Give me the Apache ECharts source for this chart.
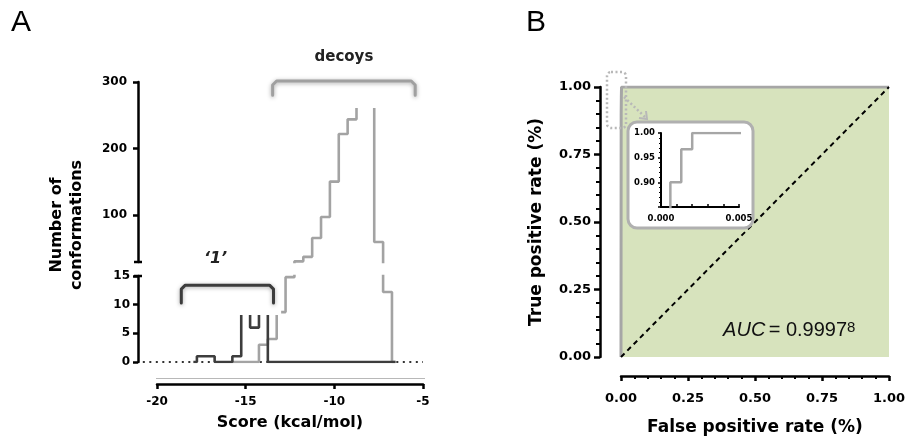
<!DOCTYPE html>
<html><head><meta charset="utf-8">
<script src="https://cdn.jsdelivr.net/npm/echarts@6/dist/echarts.min.js"></script>
<style>html,body{margin:0;padding:0;background:#fff}#c{width:907px;height:439px}</style>
</head><body><div id="c"></div>
<script>
// ---------- Panel A data (histograms, bin edges in kcal/mol) ----------
const darkEdges  = [-17.95, -17.75, -16.75, -15.75, -15.25, -14.75, -14.25, -13.75, -6.55];
const darkCounts = [0, 1, 0, 1, 9, 6, 9, 0];
const decoyEdges  = [-15.75, -14.25, -13.75, -13.25, -12.75, -12.25, -11.75, -11.25, -10.75, -10.25, -9.75, -9.25, -8.75, -8.25, -7.75, -7.25, -6.75, -6.55];
const decoyCounts = [0, 3, 4, 8.7, 14.8, 31, 37.7, 66, 97.4, 150.6, 222, 244, 285, 280, 60, 12.2, 0];
const scoreMin = -20, scoreMax = -5;
const upperTicks = [100, 200, 300];
const zeroLineX = [-20.8, -5.0];
// ---------- Panel B data ----------
const rocFpr = [0, 0.0006, 0.0006, 0.0013, 0.0013, 0.0020, 0.0020, 1.0];
const rocTpr = [0, 0, 0.90, 0.90, 0.967, 0.967, 1.0, 1.0];
const chanceFpr = [0, 1];
const chanceTpr = [0, 1];
const aucText = '0.9997';
const aucSup = '8';

function steps(edges, counts) {
  const pts = [];
  for (let i = 0; i < counts.length; i++) {
    pts.push([edges[i], counts[i]], [edges[i + 1], counts[i]]);
  }
  return pts;
}
const zip = (a, b) => a.map((v, i) => [v, b[i]]);

const BF = 'DejaVu Sans';
const black = '#000';
const lbl = (size, extra) => Object.assign({fontFamily: BF, fontWeight: 'bold', fontSize: size, color: black}, extra || {});
const aLine = w => ({show: true, onZero: false, lineStyle: {color: black, width: w}});

const chart = echarts.init(document.getElementById('c'));
const darkC = '#3d3d3d', lightC = '#a3a3a3';

// pixel scale of panel A x axis: 266 px for 15 units -> zero-line grid starts further left
const pxPerUnit = 266 / (scoreMax - scoreMin);
const zlLeft = 157 + (zeroLineX[0] - scoreMin) * pxPerUnit;

const option = {
  animation: false,
  backgroundColor: '#fff',
  grid: [
    {left: 157, top: 82, width: 266, height: 180, outerBoundsMode: 'none'},
    {left: 157, top: 276, width: 266, height: 86, outerBoundsMode: 'none'},
    {left: 621, top: 87, width: 268, height: 270, outerBoundsMode: 'none'},
    {left: 661, top: 133, width: 78, height: 74, outerBoundsMode: 'none'},
    {left: zlLeft, top: 276, width: 423 - zlLeft, height: 86, outerBoundsMode: 'none'}
  ],
  xAxis: [
    {gridIndex: 0, type: 'value', min: scoreMin, max: scoreMax, show: false},
    {gridIndex: 1, type: 'value', min: scoreMin, max: scoreMax, interval: 5, offset: 22,
     axisLine: aLine(2.5),
     axisTick: {show: true, length: 5, lineStyle: {color: black, width: 2.5}},
     axisLabel: lbl(12, {margin: 12}), splitLine: {show: false},
     name: 'Score (kcal/mol)', nameLocation: 'middle', nameGap: 31, nameMoveOverlap: false,
     nameTextStyle: lbl(16)},
    {gridIndex: 2, type: 'value', min: 0, max: 1, interval: 0.25, offset: 19,
     axisLine: aLine(2.5),
     axisTick: {show: true, length: 5, lineStyle: {color: black, width: 2.5}},
     minorTick: {show: true, splitNumber: 5, length: 3, lineStyle: {color: black, width: 2}},
     axisLabel: lbl(13, {margin: 16, formatter: v => v.toFixed(2)}), splitLine: {show: false},
     name: 'False positive rate (%)', nameLocation: 'middle', nameGap: 43, nameMoveOverlap: false,
     nameTextStyle: lbl(17)},
    {gridIndex: 3, type: 'value', min: 0, max: 0.005, interval: 0.001, z: 60,
     axisLine: aLine(2),
     axisTick: {show: true, inside: true, length: 3, lineStyle: {color: black, width: 1.5}},
     axisLabel: lbl(8.5, {margin: 7, formatter: v => (Math.abs(v) < 1e-9 || Math.abs(v - 0.005) < 1e-9) ? v.toFixed(3) : ''}),
     splitLine: {show: false}},
    {gridIndex: 4, type: 'value', min: zeroLineX[0], max: scoreMax, show: false}
  ],
  yAxis: [
    {gridIndex: 0, type: 'value', min: 30, max: 300, offset: 19,
     axisLine: aLine(2.5),
     axisTick: {show: true, length: 5, customValues: upperTicks, lineStyle: {color: black, width: 2.5}},
     axisLabel: lbl(12, {margin: 11, customValues: upperTicks}), splitLine: {show: false}},
    {gridIndex: 1, type: 'value', min: 0, max: 15, interval: 5, offset: 19,
     axisLine: aLine(2.5),
     axisTick: {show: true, length: 5, lineStyle: {color: black, width: 2.5}},
     axisLabel: lbl(12, {margin: 8}), splitLine: {show: false}},
    {gridIndex: 2, type: 'value', min: 0, max: 1, interval: 0.25, offset: 21,
     axisLine: aLine(2.5),
     axisTick: {show: true, length: 6, lineStyle: {color: black, width: 2.5}},
     minorTick: {show: true, splitNumber: 5, length: 4, lineStyle: {color: black, width: 2}},
     axisLabel: lbl(13, {margin: 9, formatter: v => v.toFixed(2)}), splitLine: {show: false},
     name: 'True positive rate (%)', nameLocation: 'middle', nameGap: 55, nameRotate: 90, nameMoveOverlap: false,
     nameTextStyle: lbl(17)},
    {gridIndex: 3, type: 'value', min: 0.85, max: 1.0, interval: 0.05, z: 60,
     axisLine: aLine(2),
     axisTick: {show: true, length: 3, lineStyle: {color: black, width: 1.5}},
     minorTick: {show: true, splitNumber: 5, length: 2, lineStyle: {color: black, width: 1}},
     axisLabel: lbl(8.5, {margin: 6, showMinLabel: false, formatter: v => v.toFixed(2)}),
     splitLine: {show: false}},
    {gridIndex: 4, type: 'value', min: 0, max: 15, show: false}
  ],
  series: [
    {type: 'line', xAxisIndex: 4, yAxisIndex: 4, data: zeroLineX.map(x => [x, 0]),
     symbol: 'none', z: 1, lineStyle: {color: '#333', width: 2, type: [2, 4.5]}},
    {type: 'line', xAxisIndex: 0, yAxisIndex: 0, data: steps(decoyEdges, decoyCounts), symbol: 'none',
     lineStyle: {color: lightC, width: 2.6}},
    {type: 'line', xAxisIndex: 1, yAxisIndex: 1, data: steps(decoyEdges, decoyCounts), symbol: 'none',
     lineStyle: {color: lightC, width: 2.6}},
    {type: 'line', xAxisIndex: 0, yAxisIndex: 0, data: steps(darkEdges, darkCounts), symbol: 'none',
     lineStyle: {color: darkC, width: 2.6}},
    {type: 'line', xAxisIndex: 1, yAxisIndex: 1, data: steps(darkEdges, darkCounts), symbol: 'none',
     lineStyle: {color: darkC, width: 2.6}},
    {type: 'line', xAxisIndex: 2, yAxisIndex: 2, data: zip(rocFpr, rocTpr), symbol: 'none',
     lineStyle: {color: '#a6a6a6', width: 3}, areaStyle: {color: '#d7e3bd', opacity: 1}},
    {type: 'line', xAxisIndex: 2, yAxisIndex: 2, data: zip(chanceFpr, chanceTpr), symbol: 'none',
     lineStyle: {color: '#000', width: 2, type: [5, 4]}},
    {type: 'line', xAxisIndex: 3, yAxisIndex: 3, data: zip(rocFpr, rocTpr), symbol: 'none', z: 60,
     lineStyle: {color: '#a6a6a6', width: 2.5}}
  ]
};
chart.setOption(option);

const P = (g, x, y) => chart.convertToPixel({gridIndex: g}, [x, y]);
function bracket(x0, x1, yt, yb, color) {
  const r = 4;
  return {type: 'polyline', z: 52,
    shape: {points: [[x0, yb], [x0, yt + r], [x0 + r, yt], [x1 - r, yt], [x1, yt + r], [x1, yb]]},
    style: {stroke: color, lineWidth: 3, fill: null, lineJoin: 'round', lineCap: 'round',
            shadowBlur: 4, shadowColor: 'rgba(0,0,0,0.35)', shadowOffsetY: 1}};
}

const g = [];
// panel letters
g.push({type: 'text', x: 11, y: 8, z: 70, style: {text: 'A', font: '30px "Liberation Sans"', fill: '#000'}});
g.push({type: 'text', x: 526, y: 8, z: 70, style: {text: 'B', font: '30px "Liberation Sans"', fill: '#000'}});

// Panel A annotations
const axX = P(0, scoreMin, 300)[0] - 19;
const yUpBot = P(0, scoreMin, 30)[1];
const yLowTop = P(1, scoreMin, 15)[1];
g.push({type: 'line', z: 55, shape: {x1: axX - 4, y1: yUpBot, x2: axX + 4, y2: yUpBot}, style: {stroke: '#000', lineWidth: 2.5}});
g.push({type: 'line', z: 55, shape: {x1: axX - 4, y1: yLowTop, x2: axX + 4, y2: yLowTop}, style: {stroke: '#000', lineWidth: 2.5}});
g.push({type: 'text', x: 67, y: (P(0, 0, 300)[1] + P(1, 0, 0)[1]) / 2 + 3, z: 70, rotation: Math.PI / 2,
  style: {text: 'Number of\nconformations', font: 'bold 16px "DejaVu Sans"', fill: '#000',
          align: 'center', verticalAlign: 'middle', lineHeight: 20}});
// faint line under histogram area
const yl = P(1, scoreMin, 0)[1] + 16.5;
g.push({type: 'line', z: 5, shape: {x1: P(1, scoreMin, 0)[0] - 1, y1: yl, x2: P(1, scoreMax, 0)[0] + 2, y2: yl},
  style: {stroke: '#b8b8b8', lineWidth: 1}});

// decoys label
const dx0 = P(0, -13.48, 0)[0], dx1 = P(0, -5.44, 0)[0];
const dyt = P(0, 0, 301.5)[1], dyb = P(0, 0, 280)[1];
g.push({type: 'rect', z: 51, shape: {x: dx0 - 4, y: 0, width: dx1 - dx0 + 10, height: P(0, 0, 261)[1]},
  style: {fill: '#fff'}});
g.push(bracket(dx0, dx1, dyt, dyb, '#a0a0a0'));
g.push({type: 'text', x: (dx0 + dx1) / 2, y: dyt - 24, z: 70,
  style: {text: 'decoys', font: 'bold 15px "DejaVu Sans"', fill: '#222', align: 'center', verticalAlign: 'middle'}});

// '1' label
const ox0 = P(1, -18.63, 0)[0], ox1 = P(1, -13.43, 0)[0];
const oyt = P(1, 0, 13.4)[1], oyb = P(1, 0, 10.3)[1];
g.push({type: 'rect', z: 51, shape: {x: ox0 - 5, y: oyt - 20, width: P(1, -13.0, 0)[0] - ox0 + 5, height: P(1, 0, 8.2)[1] - (oyt - 20)},
  style: {fill: '#fff'}});
g.push(bracket(ox0, ox1, oyt, oyb, '#3c3c3c'));
g.push({type: 'text', x: P(1, -16.7, 0)[0], y: oyt - 26, z: 70,
  style: {text: '\u20181\u2019', font: 'italic bold 16px "DejaVu Sans"', fill: '#222', align: 'center', verticalAlign: 'middle'}});

// Panel B annotations
const o = P(2, 0, 1);
g.push({type: 'rect', z: 50, shape: {x: o[0] - 14, y: o[1] - 15, width: 19, height: 56, r: 4},
  style: {fill: null, stroke: '#b8b8b8', lineWidth: 2.5, lineDash: [2, 2.5]}});
g.push({type: 'line', z: 50, shape: {x1: o[0] + 3, y1: o[1] + 10, x2: o[0] + 24, y2: o[1] + 30},
  style: {stroke: '#b8b8b8', lineWidth: 2.5, lineDash: [2, 2.5]}});
g.push({type: 'polyline', z: 50, shape: {points: [[o[0] + 18, o[1] + 31], [o[0] + 26, o[1] + 32], [o[0] + 25, o[1] + 24]]},
  style: {stroke: '#b8b8b8', lineWidth: 2, fill: null}});
const i0 = P(3, 0, 0.85), i1 = P(3, 0.005, 1.0);
g.push({type: 'rect', z: 55, shape: {x: i0[0] - 33, y: i1[1] - 11, width: (i1[0] + 14) - (i0[0] - 33), height: (i0[1] + 21) - (i1[1] - 11), r: 9},
  style: {fill: '#fff', stroke: '#b0b0b0', lineWidth: 3}});
const ap = P(2, 0.381, 0.10);
g.push({type: 'text', x: ap[0], y: ap[1], z: 70,
  style: {text: '{i|AUC} {n|= ' + aucText + '}{s|' + aucSup + '}', fill: '#111', align: 'left', verticalAlign: 'middle',
    rich: {i: {font: 'italic 20px "Liberation Sans"', fill: '#111'},
           n: {font: '20px "Liberation Sans"', fill: '#111'},
           s: {font: '15px "Liberation Sans"', fill: '#111', verticalAlign: 'top'}}}});

chart.setOption({graphic: {elements: g}});
</script></body></html>
